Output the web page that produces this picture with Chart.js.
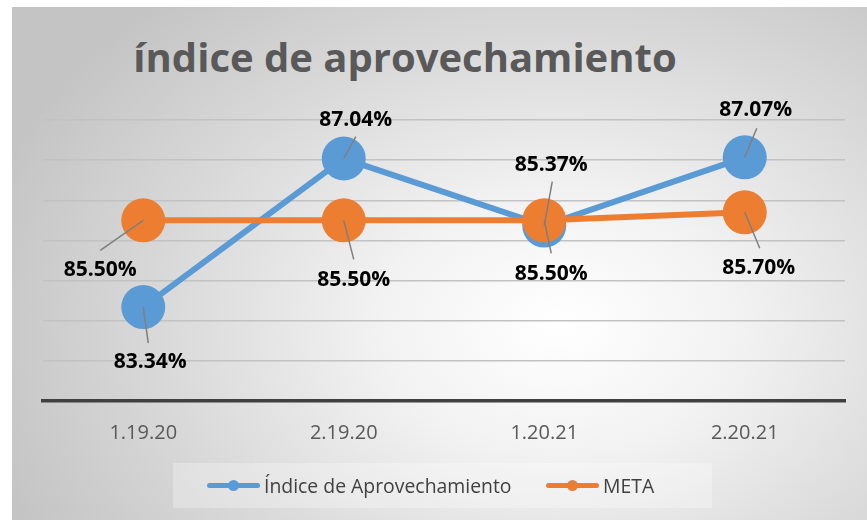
<!DOCTYPE html>
<html>
<head>
<meta charset="utf-8">
<title>índice de aprovechamiento</title>
<script src="https://cdn.jsdelivr.net/npm/chart.js"></script>
<style>
  html, body { margin: 0; padding: 0; background: #fff; }
  #wrap { position: relative; width: 867px; height: 520px; overflow: hidden; }
  #panel {
    position: absolute; left: 12px; top: 7px; width: 855px; height: 513px;
    background: radial-gradient(ellipse 70% 85% at 64% 62%, #ffffff 0%, #f2f2f2 30%, #dadada 65%, #c4c4c4 100%);
  }
  #title {
    position: absolute; left: 0; top: 36px; width: 810px; text-align: center;
    font: bold 40px/42px "Open Sans", sans-serif; color: #595959;
  }
  #chart { position: absolute; left: 0; top: 0; }
  #legend {
    position: absolute; left: 173px; top: 463px; width: 539px; height: 45px;
    background: rgba(255,255,255,0.28);
    font: 19.4px "Open Sans", sans-serif; color: #404040;
  }
  .item { display: flex; align-items: center; position: absolute; top: 9px; height: 27px; }
  .mark { position: relative; width: 53px; height: 5px; border-radius: 3px; margin-right: 4px; }
  .mark i { position: absolute; left: 21px; top: -3px; width: 11px; height: 11px; border-radius: 50%; }
</style>
</head>
<body>
<div id="wrap">
  <div id="panel"></div>
  <div id="title">índice de aprovechamiento</div>
  <canvas id="chart" width="867" height="520"></canvas>
  <div id="legend"></div>
</div>
<script>
// periods on the x axis
const periods = ['1.19.20', '2.19.20', '1.20.21', '2.20.21'];

// series values (%)
const indiceValues = [83.34, 87.04, 85.37, 87.07];
const metaValues = [85.50, 85.50, 85.50, 85.70];

// y axis range (hidden ticks, only gridlines shown)
const yMin = 81;
const yMax = 88;
const yStep = 1;

// label placement: [leader end dx, dy, text dx, dy] relative to the point
const indiceLabelPos = [[5, 36, 7, 55], [12, -22, 12, -39], [8, -44, 7, -61], [12, -29, 11, -47]];
const metaLabelPos = [[-43, 30, -43, 50], [10, 39, 10, 60], [7, 33, 7, 54], [15, 36, 14, 56]];

const BLUE = '#5B9BD5';
const ORANGE = '#ED7D31';

// data labels with leader lines
const leaderLabels = {
  id: 'leaderLabels',
  afterDatasetsDraw(chart) {
    const ctx = chart.ctx;
    chart.data.datasets.forEach((ds, di) => {
      const meta = chart.getDatasetMeta(di);
      meta.data.forEach((pt, i) => {
        const p = ds.labelPos[i];
        ctx.save();
        ctx.strokeStyle = '#7f7f7f';
        ctx.lineWidth = 1.5;
        ctx.beginPath();
        ctx.moveTo(pt.x, pt.y);
        ctx.lineTo(pt.x + p[0], pt.y + p[1]);
        ctx.stroke();
        ctx.fillStyle = '#000';
        ctx.font = 'bold 21px "Open Sans", sans-serif';
        ctx.textAlign = 'center';
        ctx.textBaseline = 'middle';
        ctx.fillText(ds.data[i].toFixed(2) + '%', pt.x + p[2], pt.y + p[3]);
        ctx.restore();
      });
    });
  }
};

const chart = new Chart(document.getElementById('chart'), {
  type: 'line',
  data: {
    labels: periods,
    datasets: [
      {
        label: 'Índice de Aprovechamiento',
        data: indiceValues,
        labelPos: indiceLabelPos,
        borderColor: BLUE,
        backgroundColor: BLUE,
        borderWidth: 6,
        pointRadius: 22,
        pointHoverRadius: 22,
        pointBorderWidth: 0,
        tension: 0,
        order: 1
      },
      {
        label: 'META',
        data: metaValues,
        labelPos: metaLabelPos,
        borderColor: ORANGE,
        backgroundColor: ORANGE,
        borderWidth: 6,
        pointRadius: 22,
        pointHoverRadius: 22,
        pointBorderWidth: 0,
        tension: 0,
        order: 0
      }
    ]
  },
  options: {
    responsive: false,
    animation: false,
    layout: { padding: { left: 43, right: 14, top: 120, bottom: 0 } },
    plugins: {
      legend: { display: false },
      title: { display: false },
      tooltip: { enabled: false }
    },
    scales: {
      x: {
        offset: true,
        grid: { display: false, drawTicks: false },
        border: { display: true, color: '#404040', width: 3.5 },
        ticks: {
          color: '#595959',
          font: { family: 'Open Sans', size: 20 },
          padding: 20
        },
        afterFit: s => { s.height = 119; }
      },
      y: {
        min: yMin,
        max: yMax,
        ticks: { display: false, stepSize: yStep },
        grid: { color: '#c2c2c2', lineWidth: 1.5, drawTicks: false },
        border: { display: false },
        afterFit: s => { s.width = 0; }
      }
    }
  },
  plugins: [leaderLabels]
});

// legend built from the datasets
const legend = document.getElementById('legend');
const itemLeft = [34, 373];
chart.data.datasets.forEach((ds, i) => {
  const item = document.createElement('div');
  item.className = 'item';
  item.style.left = itemLeft[i] + 'px';
  item.innerHTML = '<span class="mark" style="background:' + ds.borderColor + '"><i style="background:' +
    ds.borderColor + '"></i></span><span>' + ds.label + '</span>';
  legend.appendChild(item);
});
</script>
</body>
</html>
